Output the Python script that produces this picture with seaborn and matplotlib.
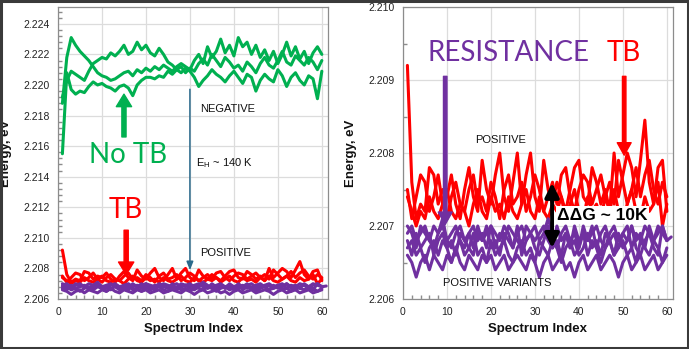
import numpy as np
import pandas as pd
import matplotlib
matplotlib.use("Agg")
import matplotlib.pyplot as plt
from matplotlib.ticker import MultipleLocator
from matplotlib.patches import Rectangle
import seaborn as sns

# ---------------- data ----------------
green_1 = [2.2155, 2.2208, 2.2197, 2.2194, 2.2196, 2.2195, 2.2199, 2.2202, 2.2200, 2.2201,
           2.2199, 2.2198, 2.2196, 2.2199, 2.2200, 2.2198, 2.2193, 2.2200, 2.2203, 2.2205,
           2.2205, 2.2204, 2.2206, 2.2205, 2.2209, 2.2207, 2.2210, 2.2208, 2.2211, 2.2209,
           2.2205, 2.2199, 2.2203, 2.2206, 2.2210, 2.2207, 2.2205, 2.2202, 2.2206, 2.2209,
           2.2205, 2.2201, 2.2207, 2.2205, 2.2196, 2.2203, 2.2207, 2.2204, 2.2202, 2.2210,
           2.2206, 2.2199, 2.2205, 2.2208, 2.2203, 2.2200, 2.2206, 2.2204, 2.2191, 2.2209]
green_2 = [2.2188, 2.2218, 2.2231, 2.2226, 2.2222, 2.2219, 2.2216, 2.2212, 2.2208, 2.2206,
           2.2205, 2.2203, 2.2204, 2.2206, 2.2208, 2.2209, 2.2206, 2.2210, 2.2208, 2.2211,
           2.2209, 2.2212, 2.2210, 2.2213, 2.2211, 2.2209, 2.2212, 2.2214, 2.2212, 2.2210,
           2.2216, 2.2220, 2.2214, 2.2225, 2.2218, 2.2222, 2.2230, 2.2221, 2.2226, 2.2219,
           2.2231, 2.2225, 2.2228, 2.2220, 2.2226, 2.2218, 2.2223, 2.2216, 2.2222, 2.2214,
           2.2220, 2.2228, 2.2219, 2.2225, 2.2217, 2.2222, 2.2214, 2.2221, 2.2225, 2.2220]
green_3 = [2.2192, 2.2203, 2.2209, 2.2207, 2.2205, 2.2203, 2.2209, 2.2214, 2.2216, 2.2218,
           2.2217, 2.2221, 2.2219, 2.2222, 2.2226, 2.2220, 2.2222, 2.2228, 2.2223, 2.2226,
           2.2221, 2.2219, 2.2224, 2.2220, 2.2215, 2.2213, 2.2210, 2.2212, 2.2208, 2.2211,
           2.2209, 2.2214, 2.2217, 2.2213, 2.2220, 2.2216, 2.2212, 2.2218, 2.2215, 2.2211,
           2.2213, 2.2209, 2.2215, 2.2212, 2.2208, 2.2214, 2.2218, 2.2213, 2.2211, 2.2216,
           2.2222, 2.2215, 2.2213, 2.2219, 2.2216, 2.2213, 2.2218, 2.2215, 2.2210, 2.2216]

red_1 = [2.2092, 2.2076, 2.2071, 2.2073, 2.2072, 2.2078, 2.2077, 2.2073, 2.2075, 2.2074,
         2.2077, 2.2073, 2.2071, 2.2075, 2.2078, 2.2074, 2.2072, 2.2079, 2.2075, 2.2073,
         2.2077, 2.2080, 2.2074, 2.2072, 2.2076, 2.2080, 2.2073, 2.2077, 2.2080, 2.2074,
         2.2072, 2.2079, 2.2075, 2.2073, 2.2076, 2.2074, 2.2072, 2.2075, 2.2078, 2.2079,
         2.2074, 2.2073, 2.2078, 2.2076, 2.2073, 2.2075, 2.2072, 2.2080, 2.2074, 2.2077,
         2.2080, 2.2078, 2.2074, 2.2079, 2.20845, 2.2076, 2.2073, 2.2078, 2.2079, 2.2072]
red_2 = [2.2075, 2.2071, 2.2074, 2.2077, 2.2076, 2.2072, 2.2074, 2.2077, 2.2073, 2.2071,
         2.2074, 2.2076, 2.2073, 2.2072, 2.2075, 2.2077, 2.2073, 2.2074, 2.2072, 2.2076,
         2.2074, 2.2071, 2.2075, 2.2077, 2.2073, 2.2074, 2.2076, 2.2072, 2.2074, 2.2077,
         2.2075, 2.2072, 2.2074, 2.2076, 2.2073, 2.2077, 2.2078, 2.2074, 2.2072, 2.2075,
         2.2077, 2.2076, 2.2073, 2.2075, 2.2077, 2.2074, 2.2076, 2.2073, 2.2079, 2.2076,
         2.2073, 2.2075, 2.2078, 2.2074, 2.2077, 2.2079, 2.2075, 2.2073, 2.2076, 2.2074]
red_3 = [2.2074, 2.2072, 2.2070, 2.2072, 2.2071, 2.2074, 2.2072, 2.2071, 2.2073, 2.2075,
         2.2072, 2.2071, 2.2073, 2.2072, 2.2070, 2.2073, 2.2075, 2.2072, 2.2071, 2.2074,
         2.2072, 2.2073, 2.2071, 2.2074, 2.2072, 2.2071, 2.2073, 2.2075, 2.2072, 2.2071,
         2.2074, 2.2072, 2.2071, 2.2073, 2.2072, 2.2074, 2.2071, 2.2073, 2.2075, 2.2072,
         2.2071, 2.2074, 2.2072, 2.2073, 2.2071, 2.2074, 2.2072, 2.2075, 2.2072, 2.2071,
         2.2073, 2.2075, 2.2072, 2.2071, 2.2074, 2.2072, 2.2073, 2.2076, 2.2070, 2.2073]

purple_1 = [2.2069, 2.2070, 2.2068, 2.2069, 2.2070, 2.2068, 2.2067, 2.2069, 2.2071, 2.2068,
            2.2069, 2.2070, 2.2068, 2.2067, 2.2069, 2.2070, 2.2068, 2.2069, 2.2067, 2.2070,
            2.2069, 2.2068, 2.2070, 2.2069, 2.2067, 2.2069, 2.2070, 2.2068, 2.2069, 2.2070,
            2.2068, 2.2069, 2.2071, 2.2069, 2.2067, 2.2069, 2.2070, 2.2068, 2.2069, 2.2067,
            2.2070, 2.2068, 2.2069, 2.2070, 2.2068, 2.2067, 2.2069, 2.2070, 2.2068, 2.2069,
            2.2070, 2.2067, 2.2069, 2.2068, 2.2070, 2.2069, 2.2068, 2.2070, 2.2069, 2.2068,
            2.20685]
purple_2 = [2.2067, 2.2068, 2.2066, 2.2067, 2.2065, 2.2067, 2.2068, 2.2066, 2.2068, 2.2067,
            2.2065, 2.2067, 2.2068, 2.2066, 2.2067, 2.2069, 2.2066, 2.2067, 2.2065, 2.2068,
            2.2066, 2.2067, 2.2068, 2.2066, 2.2065, 2.2067, 2.2068, 2.2066, 2.2067, 2.2065,
            2.2068, 2.2067, 2.2066, 2.2068, 2.2067, 2.2065, 2.2067, 2.2068, 2.2066, 2.2067,
            2.2069, 2.2066, 2.2068, 2.2067, 2.2065, 2.2067, 2.2068, 2.2066, 2.2067, 2.2068,
            2.2066, 2.2067, 2.2065, 2.2068, 2.2067, 2.2066, 2.2068, 2.2067, 2.2065, 2.2067]
purple_3 = [2.2066, 2.2065, 2.2063, 2.2065, 2.2066, 2.2064, 2.2066, 2.2065, 2.2064, 2.2066,
            2.2065, 2.2067, 2.2065, 2.2064, 2.2066, 2.2065, 2.2064, 2.2066, 2.2065, 2.2066,
            2.2064, 2.2065, 2.2066, 2.2064, 2.2065, 2.2066, 2.2065, 2.2064, 2.2066, 2.2065,
            2.2063, 2.2065, 2.2066, 2.2064, 2.2065, 2.2066, 2.2064, 2.2065, 2.2063, 2.2065,
            2.2066, 2.2064, 2.2065, 2.2066, 2.2064, 2.2065, 2.2066, 2.2065, 2.2063, 2.2065,
            2.2066, 2.2064, 2.2065, 2.2066, 2.2064, 2.2065, 2.2066, 2.2064, 2.2065, 2.2066]
purple_4 = [2.2068, 2.2066, 2.2069, 2.2067, 2.2068, 2.2069, 2.2066, 2.2068, 2.2069, 2.2067,
            2.2068, 2.2066, 2.2069, 2.2068, 2.2067, 2.2066, 2.2069, 2.2068, 2.2070, 2.2067,
            2.2068, 2.2066, 2.2069, 2.2068, 2.2067, 2.2070, 2.2066, 2.2068, 2.2069, 2.2067,
            2.2066, 2.2068, 2.2070, 2.2067, 2.2068, 2.2066, 2.2069, 2.2067, 2.2068, 2.2066,
            2.2067, 2.2069, 2.2067, 2.2068, 2.2066, 2.2069, 2.2068, 2.2066, 2.2069, 2.2067,
            2.2068, 2.2070, 2.2067, 2.2066, 2.2068, 2.2069, 2.2067, 2.2066, 2.2070, 2.2068]
purple_5 = [2.2070, 2.2069, 2.2067, 2.2070, 2.2069, 2.2068, 2.2070, 2.2069, 2.2070, 2.2068,
            2.2067, 2.2069, 2.2070, 2.2068, 2.2069, 2.2067, 2.2070, 2.2068, 2.2069, 2.2070,
            2.2067, 2.2069, 2.2068, 2.2070, 2.2069, 2.2068, 2.2067, 2.2070, 2.2069, 2.2068,
            2.2069, 2.2070, 2.2068, 2.2067, 2.2070, 2.2068, 2.2069, 2.2067, 2.2070, 2.2068,
            2.2069, 2.2068, 2.2070, 2.2067, 2.2069, 2.2070, 2.2068, 2.2069, 2.2067, 2.2069,
            2.2068, 2.2070, 2.2068, 2.2069, 2.2067, 2.2070, 2.2068, 2.2069, 2.2070, 2.2068]

GREEN, RED, PURPLE = "#00B050", "#FF0000", "#7030A0"

green_series = {"g1": green_1, "g2": green_2, "g3": green_3}
red_series = {"r1": red_1, "r2": red_2, "r3": red_3}
purple_series = {"p1": purple_1, "p2": purple_2, "p3": purple_3, "p4": purple_4, "p5": purple_5}


def to_long(series_dict):
    rows = []
    for name, vals in series_dict.items():
        for i, v in enumerate(vals):
            rows.append({"Spectrum Index": i + 1, "Energy": v, "series": name})
    return pd.DataFrame(rows)


df_green = to_long(green_series)
df_pos = to_long({**red_series, **purple_series})
palette = {**{k: GREEN for k in green_series}, **{k: RED for k in red_series},
           **{k: PURPLE for k in purple_series}}

# ---------------- style ----------------
sns.set_theme(style="whitegrid")
plt.rcParams["font.family"] = ["Liberation Sans", "DejaVu Sans"]
plt.rcParams["mathtext.fontset"] = "custom"
plt.rcParams["mathtext.rm"] = "Liberation Sans"
plt.rcParams["mathtext.it"] = "Liberation Sans"

fig = plt.figure(figsize=(6.89, 3.49), dpi=100)
W, H = 689, 349
axL = fig.add_axes([58 / W, 1 - 299 / H, 270 / W, 292 / H])
axR = fig.add_axes([403 / W, 1 - 299 / H, 270 / W, 292 / H])

LW = 2.2
sns.lineplot(data=df_green, x="Spectrum Index", y="Energy", hue="series", palette=palette,
             estimator=None, sort=False, linewidth=LW, legend=False, ax=axL)
for ax in (axL, axR):
    sns.lineplot(data=df_pos, x="Spectrum Index", y="Energy", hue="series", palette=palette,
                 estimator=None, sort=False, linewidth=LW, legend=False, ax=ax)


def style_axes(ax, ylim, ymajor, yminor, fmt):
    ax.set_xlim(0, 61.4)
    ax.set_ylim(*ylim)
    ax.xaxis.set_major_locator(MultipleLocator(10))
    ax.xaxis.set_minor_locator(MultipleLocator(2))
    ax.yaxis.set_major_locator(MultipleLocator(ymajor))
    ax.yaxis.set_minor_locator(MultipleLocator(yminor))
    ax.yaxis.set_major_formatter(plt.FormatStrFormatter(fmt))
    ax.grid(True, which="major", color="#dcdcdc", linewidth=0.9)
    ax.grid(False, which="minor")
    for s in ax.spines.values():
        s.set_color("#8c8c8c")
        s.set_linewidth(0.9)
        s.set_visible(True)
    ax.tick_params(which="both", direction="in", colors="#8c8c8c", labelcolor="#222222",
                   labelsize=7.5, left=True, bottom=True)
    ax.tick_params(which="major", length=0, pad=6)
    ax.tick_params(which="minor", length=3)
    ax.set_xlabel("Spectrum Index", fontsize=9.5, fontweight="bold", color="#111111", labelpad=4)
    ax.set_ylabel("Energy, eV", fontsize=9.5, fontweight="bold", color="#111111")
    ax.yaxis.set_label_coords(-0.17, 0.5)
    ax.set_facecolor("white")


style_axes(axL, (2.206, 2.2251), 0.002, 0.0004, "%.3f")
style_axes(axR, (2.206, 2.210), 0.001, 0.0005, "%.3f")

BIG = dict(family=["Lato", "DejaVu Sans"], fontsize=20)
SMALL = dict(fontsize=8, color="#111111")

# ---- left annotations ----
axL.text(15.9, 2.2154, "No TB", color=GREEN, ha="center", va="center", **BIG)
axL.annotate("", xy=(15, 2.2194), xytext=(15, 2.2166),
             arrowprops=dict(facecolor=GREEN, edgecolor=GREEN, width=3, headwidth=11, headlength=9))
axL.text(15.5, 2.2118, "TB", color=RED, ha="center", va="center", **BIG)
axL.annotate("", xy=(15.5, 2.2076), xytext=(15.5, 2.2105),
             arrowprops=dict(facecolor=RED, edgecolor=RED, width=3, headwidth=11, headlength=9))
axL.annotate("", xy=(30, 2.2077), xytext=(30, 2.2199),
             arrowprops=dict(arrowstyle="-|>,head_length=0.5,head_width=0.2", color="#2B6A8C",
                             lw=1.1, mutation_scale=10))
axL.text(32.3, 2.2184, "NEGATIVE", ha="left", va="center", **SMALL)
axL.text(31.4, 2.2149, r"$\mathregular{E_H}$ ~ 140 K", ha="left", va="center", **SMALL)
axL.text(32.3, 2.2090, "POSITIVE", ha="left", va="center", **SMALL)

# ---- right annotations ----
axR.text(23.9, 2.20937, "RESISTANCE", color=PURPLE, ha="center", va="center", **BIG)
axR.text(50.3, 2.20937, "TB", color=RED, ha="center", va="center", **BIG)
axR.annotate("", xy=(9.6, 2.20702), xytext=(9.6, 2.20905),
             arrowprops=dict(facecolor=PURPLE, edgecolor=PURPLE, width=2.5, headwidth=10, headlength=9))
axR.annotate("", xy=(50.3, 2.20797), xytext=(50.3, 2.20905),
             arrowprops=dict(facecolor=RED, edgecolor=RED, width=2.5, headwidth=10, headlength=9))
axR.annotate("", xy=(33.9, 2.20759), xytext=(33.9, 2.20670),
             arrowprops=dict(arrowstyle="<|-|>,head_length=0.6,head_width=0.3", color="black",
                             lw=2.8, mutation_scale=14, shrinkA=0, shrinkB=0))
axR.text(35.0, 2.20715, "ΔΔG ~ 10K", ha="left", va="center", fontsize=12.5, fontweight="bold",
         color="black", bbox=dict(facecolor="white", edgecolor="none", pad=1))
axR.text(16.3, 2.20818, "POSITIVE", ha="left", va="center", **SMALL)
axR.text(9.1, 2.20622, "POSITIVE VARIANTS", ha="left", va="center", **SMALL)

fig.patches.append(Rectangle((0.002, 0.003), 0.996, 0.994, transform=fig.transFigure,
                             fill=False, edgecolor="#3a3a3a", linewidth=2.2))

fig.savefig("out.png", dpi=100, facecolor="white")
